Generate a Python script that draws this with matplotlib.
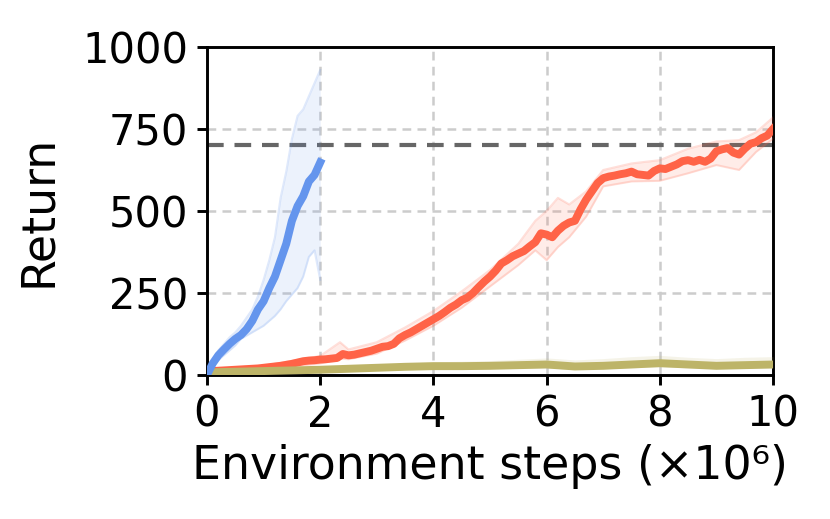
import numpy as np
import matplotlib
matplotlib.use("Agg")
import matplotlib.pyplot as plt

# ---------------- data ----------------
red_x = [round(0.1 * i, 1) for i in range(101)]
red_mean = [10, 12, 13, 14, 15, 16, 17, 18, 19, 20,
            22, 24, 26, 28, 31, 34, 38, 42, 44, 45,
            47, 48, 50, 52, 64, 60, 62, 66, 70, 74,
            80, 86, 88, 95, 112, 122, 130, 140, 150, 160,
            170, 180, 192, 205, 215, 228, 236, 250, 268, 285,
            300, 318, 340, 350, 362, 370, 378, 392, 405, 432,
            428, 420, 440, 455, 465, 470, 505, 535, 560, 585,
            600, 605, 608, 612, 615, 620, 612, 610, 608, 622,
            630, 628, 635, 642, 652, 655, 650, 656, 650, 660,
            682, 688, 692, 678, 672, 690, 705, 710, 722, 730,
            750]
red_band_x = [0, 1, 2, 2.35, 2.5, 3, 3.5, 4, 4.5, 5, 5.5, 5.8, 6.0, 6.2,
              6.4, 6.7, 7.0, 7.5, 8.0, 8.5, 9.0, 9.4, 9.7, 10]
red_hi = [14, 28, 58, 100, 78, 100, 145, 195, 255, 320, 400, 470, 500, 540,
          520, 560, 625, 645, 655, 690, 712, 716, 740, 785]
red_lo = [6, 17, 35, 50, 48, 65, 105, 150, 205, 270, 335, 380, 350, 390,
          420, 483, 575, 590, 592, 615, 640, 625, 680, 720]

blue_x = [round(0.1 * i, 1) for i in range(21)]
blue_mean = [0, 35, 60, 78, 95, 110, 122, 140, 165, 200, 225,
             265, 300, 350, 400, 470, 515, 545, 590, 610, 648]
blue_hi = [0, 45, 75, 95, 115, 130, 150, 175, 200, 240, 290,
           350, 420, 540, 620, 720, 790, 810, 850, 890, 930]
blue_lo = [0, 25, 45, 60, 75, 90, 110, 120, 130, 140, 150,
           165, 180, 200, 225, 245, 265, 300, 360, 380, 290]

olive_x = [0.5 * i for i in range(21)]
olive_mean = [8, 10, 12, 14, 16, 19, 22, 25, 27, 27, 28,
              30, 32, 26, 28, 32, 36, 32, 28, 30, 32]
olive_hi = [12, 15, 18, 21, 24, 28, 32, 36, 40, 42, 44,
            48, 52, 46, 50, 56, 60, 54, 50, 54, 56]
olive_lo = [4, 6, 8, 10, 11, 13, 15, 17, 18, 18, 19,
            20, 22, 17, 19, 22, 25, 22, 19, 21, 22]

threshold = 700
xticks = [0, 2, 4, 6, 8, 10]
yticks = [0, 250, 500, 750, 1000]

# ---------------- figure ----------------
DPI = 300
fig = plt.figure(figsize=(830 / DPI, 519 / DPI), dpi=DPI)
ax = fig.add_axes([207 / 830, 1 - 375 / 519, (773 - 207) / 830, (375 - 47) / 519])

c_red = "#ff6347"
c_blue = "#6495ed"
c_olive = "#bdb468"

ax.axhline(threshold, color="#666666", lw=1.0, ls=(0, (4, 2.6)), zorder=2)

# red
ax.fill_between(red_band_x, red_lo, red_hi, color=c_red, alpha=0.12, lw=0, zorder=3)
ax.plot(red_band_x, red_hi, color=c_red, alpha=0.2, lw=0.5, zorder=3)
ax.plot(red_band_x, red_lo, color=c_red, alpha=0.2, lw=0.5, zorder=3)
ax.plot(red_x, red_mean, color=c_red, lw=1.9, zorder=5)

# olive
ax.fill_between(olive_x, olive_lo, olive_hi, color=c_olive, alpha=0.15, lw=0, zorder=3)
ax.plot(olive_x, olive_mean, color=c_olive, lw=1.9, zorder=5)

# blue
ax.fill_between(blue_x, blue_lo, blue_hi, color=c_blue, alpha=0.12, lw=0, zorder=3)
ax.plot(blue_x, blue_hi, color=c_blue, alpha=0.2, lw=0.5, zorder=3)
ax.plot(blue_x, blue_lo, color=c_blue, alpha=0.2, lw=0.5, zorder=3)
ax.plot(blue_x, blue_mean, color=c_blue, lw=1.9, zorder=6)

ax.set_xlim(0, 10)
ax.set_ylim(0, 1000)
ax.set_xticks(xticks)
ax.set_yticks(yticks)
ax.grid(True, color="#cccccc", ls=(0, (3.5, 2.5)), lw=0.6, zorder=0)
ax.set_axisbelow(True)
for s in ax.spines.values():
    s.set_linewidth(0.7)
ax.tick_params(labelsize=10, length=2.5, width=0.7, pad=2)
ax.set_xlabel("Environment steps (×10⁶)", fontsize=11, labelpad=2)
ax.set_ylabel("Return", fontsize=11, labelpad=5)

fig.savefig("out.png", dpi=DPI)
